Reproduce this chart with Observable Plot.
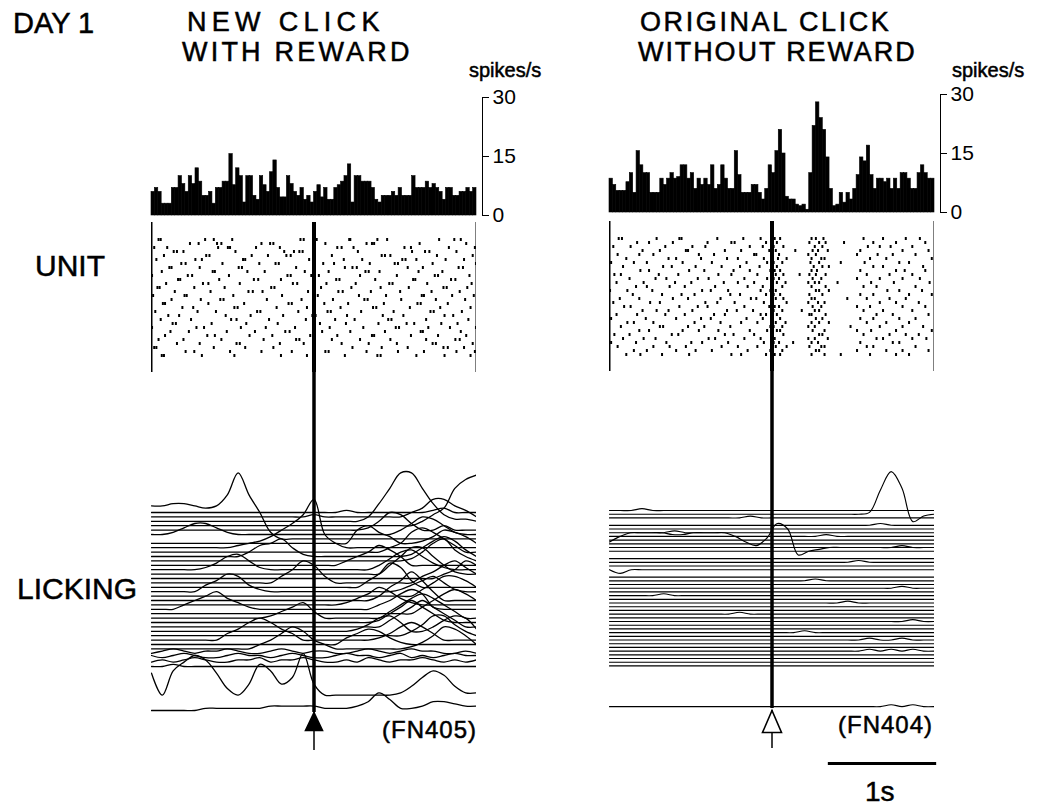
<!DOCTYPE html>
<html><head><meta charset="utf-8">
<script src="https://cdn.jsdelivr.net/npm/d3@7"></script>
<script src="https://cdn.jsdelivr.net/npm/@observablehq/plot@0.6"></script>
<style>
body{margin:0;background:#fff;}
#fig{position:relative;width:1041px;height:806px;overflow:hidden;font-family:"Liberation Sans",Arial,Helvetica,sans-serif;color:#000;background:#fff}
.lbl{position:absolute;line-height:0.85;white-space:nowrap;-webkit-text-stroke:0.5px #000}
.tline{display:block;overflow:visible;white-space:nowrap}
</style></head><body><div id="fig"></div><script>
// ---------------- DATA ----------------
const timeDomain = [-1.5, 1.5];           // s, relative to click
const clickTime = [0];
const rasterCols = 300;                    // 10 ms columns
const histTicks = [0, 15, 30];
const histMax = 30;
const scaleBar = [{from: 0.52, to: 1.52, label: "1s"}];

const titleNew = ["NEW CLICK", "WITH REWARD"];
const titleOrig = ["ORIGINAL CLICK", "WITHOUT REWARD"];
const dayLabel = "DAY 1";
const rowLabels = ["UNIT", "LICKING"];
const unitLabel = "spikes/s";
const caseNew = "(FN405)";
const caseOrig = "(FN404)";

// PSTH, spikes/s per 30 ms bin
const histNew = [6,7,6,3,3,3,7,7,10,8,6,10,8,12,8.6,5,5,6,3,7,7,8.6,8.6,15.6,7.7,12,10,3.3,10,10,5,4,10,7.7,6,11,14,7,4.6,4.6,10,8,6,5,7,4,5,3.3,6,7.7,4.6,7,4,4,7,7.7,8.6,10,13,3.3,10,10,8.6,8.6,8.6,7,4,3.3,5,5,5,6,5,7,5,5,5,10,7,7,7,8.6,7,8,7,6,4,7,7,5,5,6,6,7,6,7];
const histOrig = [8.6,7,5.5,5.5,5.5,7.7,10,5,15.6,12,10,10,5,5,5,8.6,7,8.6,10,8.6,9,12,12,8.6,10,6,8.6,7,8.6,7,12,6,7,12,8.6,6,6,15.6,9.5,5,5,5,7,7,5,3.3,6,12,10,15.6,21,15,4,3.3,3.3,2,1.6,2,0.7,10,22,28,24,21,14,6,1.6,2,5,2.5,5,3.3,6,9.5,14,13,17,9.5,6,8.6,8.6,7.7,8.6,6,8.6,6,10,10,8.6,6,6,10,12,10,8.6,8.6];

// Raster: spike times in 10 ms columns (0-299, click at 150) per trial
const rasterNew = [
[6,8,49,57,74,137,140,152,182,183,208,217,265,279,285],
[35,43,60,64,101,109,112,160,198,203,205,247,290],
[2,14,61,70,72,96,118,171,175,186,233,239,274,298],
[20,23,29,77,122,131,136,139,190,240,252,256,281],
[11,50,53,92,107,124,128,166,212,215,220,263,296],
[4,40,46,84,86,145,150,177,194,231,234,244,271,288],
[27,31,65,99,114,117,158,168,201,224,227,259,299],
[16,18,44,80,83,133,178,185,189,236,250,283,287],
[9,56,58,88,104,141,163,197,200,210,246,268],
[0,33,37,71,125,128,147,154,192,226,261,264,293],
[24,26,62,94,98,119,170,173,206,241,243,276,280],
[13,47,52,81,130,134,161,188,219,222,254,295],
[5,7,39,67,110,113,156,184,211,237,269,272,291],
[21,54,89,93,102,144,172,176,202,229,258,284],
[1,30,32,75,120,149,153,191,216,249,251,277,297],
[18,45,63,66,106,138,167,196,199,230,262,289],
[10,12,52,85,126,129,159,181,214,245,248,273],
[28,38,76,79,115,143,174,204,207,238,266,294],
[3,42,59,97,100,135,162,165,193,223,257,260,286],
[15,25,68,91,121,148,151,180,213,232,270,278],
[8,36,73,78,108,142,169,187,218,221,253,292],
[19,22,55,87,116,155,179,209,235,242,267,282],
[0,41,48,82,105,132,164,195,225,228,255,275,299],
[17,34,69,95,123,127,157,183,215,248,250,285],
[12,51,58,90,111,146,171,203,205,239,264,290],
[6,29,64,103,133,136,166,192,220,253,280,284],
[23,44,78,81,118,140,175,200,226,259,262,296],
[2,4,57,86,112,150,185,212,236,269,273,288],
[31,39,72,101,129,160,163,198,227,251,281,298],
[9,11,46,76,119,143,178,208,211,244,270,294]
];
const rasterOrig = [
[8,11,43,64,66,99,123,139,152,157,186,190,197,234,252,273,286],
[25,36,58,90,112,115,144,154,184,193,199,216,243,264,291],
[3,19,51,76,88,129,141,151,160,189,196,238,249,259,279],
[30,46,70,72,106,121,147,153,171,187,192,201,231,270,294],
[7,27,40,82,96,133,135,150,156,183,190,228,247,261,282],
[15,54,61,84,108,118,142,155,163,186,195,198,240,255,297],
[1,22,34,67,94,126,145,151,159,185,193,213,235,267,276],
[12,49,57,79,103,120,138,154,188,196,202,243,252,289],
[28,36,73,87,114,129,148,152,157,186,191,231,264,272,291],
[4,10,45,63,100,112,136,153,160,175,184,190,199,237,258,279],
[18,42,52,81,91,124,145,151,156,187,195,228,249,270,286],
[6,31,60,75,105,118,133,154,162,183,189,193,210,241,262,295],
[24,34,55,69,97,127,141,150,159,186,199,234,246,282],
[0,16,39,85,93,109,139,148,153,190,193,202,256,267,288],
[21,48,66,78,111,120,144,151,157,184,196,231,243,276,297],
[9,27,58,72,102,130,135,153,160,186,189,219,237,258,273],
[3,37,46,88,99,115,142,150,163,183,192,198,249,264,285],
[13,19,64,81,90,124,147,152,156,187,195,228,240,270,291],
[30,43,54,76,108,117,132,151,159,177,189,193,234,252,279],
[6,25,51,69,96,106,139,144,154,184,186,199,246,261,294],
[1,33,61,84,93,126,141,150,157,190,196,231,243,267,282],
[16,22,40,78,102,121,136,153,162,186,193,202,237,255,276],
[10,46,49,72,87,111,148,151,159,183,189,222,249,270,289],
[27,36,67,82,100,129,145,154,157,187,198,228,241,264,297],
[4,18,57,63,106,114,133,150,160,193,196,234,258,273,285],
[12,31,42,91,97,124,139,152,183,189,201,246,252,279,292],
[1,24,52,75,85,109,142,151,156,169,186,192,231,261,267],
[7,40,55,70,103,118,136,153,163,184,195,198,237,243,282],
[22,34,61,79,94,127,148,150,159,190,193,228,255,270,294],
[15,28,48,73,112,121,144,152,157,186,198,213,240,264,276]
];

// Licking: [trial, deflection sampled every 0.1 s from -1.5 to +1.5 s, base-36 digits in half-trial units]
const lickNew = [
[0,"0000000000000000001000000012000"],
[1,"0000000000000001000000002488530"],
[2,"0000000000000000000028fmmf83110"],
[3,"0000000000000000000000000258hln"],
[4,"0000000000000000000014873002000"],
[5,"0013553100000000000000025874100"],
[6,"ffggfefkukc30000000000000000000"],
[7,"0000000000000000000685300136530"],
[8,"0000000012358bfm620000000000000"],
[9,"0000000000000000000000249b96300"],
[10,"0000000002568410000000001479730"],
[11,"000000000000000000000000148a520"],
[12,"0000000000000000002469740000000"],
[13,"0000013674100000000002589631000"],
[14,"000000000000000000000048cc84100"],
[15,"0000000000000000000000000002486"],
[16,"00000000000036a8300000000358a74"],
[17,"0000000000000000000036b93000000"],
[18,"0000035873100000000000013574100"],
[19,"0000000000000000000000000369974"],
[20,"000000000000000000000269d940000"],
[21,"0000000000000000001358631000000"],
[22,"0002468531000000000002479710000"],
[23,"0000000000000000000000000369b96"],
[24,"0000000000013573000000369b96300"],
[25,"000000000000000000000147a741000"],
[26,"0000000000000000000000369c96300"],
[27,"0000000000000000000136740025761"],
[28,"0000000000000000000000002599520"],
[29,"0000000358a85300000001368630000"],
[30,"0000000000000000003576310000000"],
[31,"0000000000247a8420000000136a962"],
[32,"0121011210012101100121012110010"],
[33,"1012100121101210012110120101211"],
[34,"0101210011201121001021011210101"],
[35,"0010000000000000000000000000000"],
[42,"b1cgjhb416fc69k61111111259ca522"],
[45,"0000011111122222111248511244322"]
];
const lickOrig = [
[0,"0001000000000000000000000000000"],
[2,"0000000000000100000000000000000"],
[3,"4444444444444444444444445hri034"],
[4,"0000000000000000000000000100000"],
[5,"0000000000000000000000000000000"],
[6,"0000001000000000000000000000000"],
[7,"0000000000000000000010000000000"],
[8,"0000000000000000000000000000000"],
[9,"0000000000000000000000000000000"],
[10,"0000000000000000000000000001000"],
[11,"0000000000000000000000000000000"],
[12,"7accccbbcccca759he02344444444444"],
[13,"0000000000000000000000000000000"],
[14,"0000000000000000000000010000000"],
[15,"0000000000000000000000000000000"],
[17,"2022222222222222222222222222222"],
[18,"0000000000000000000000000000000"],
[19,"0000000000000000000100000000000"],
[20,"0000000000000000000000000000000"],
[21,"0000000000000000000000000001000"],
[22,"0000000000000000000000000000000"],
[23,"0000010000000000000000000000000"],
[24,"0000000000000000000000000000000"],
[25,"0000000000000000000000100000000"],
[26,"0000000000000000000000000000000"],
[27,"0000000000000000000000000000000"],
[28,"0000000000001000000000000000000"],
[29,"0000000000000000000000000000000"],
[30,"0000000000000000000000000000100"],
[31,"0000000000000000000000000000000"],
[32,"0000000000000000000000000000000"],
[33,"0000000000000000001000000000000"],
[34,"0000000000000000000000000000000"],
[35,"0000000000000000000000001001000"],
[36,"0000000000000000000000000000000"],
[37,"0000000000000000000000000000000"],
[38,"0000000000000000000000001010100"],
[39,"0000000000000000000000000000000"],
[40,"0000000000000000000000000000000"],
[41,"0000000000000000000000000000000"],
[42,"0000000000000000000000000000000"],
[53,"0000000000000000000000000010100"]
];

// ---------------- BUILD ----------------
const fig = document.getElementById("fig");
const FONT = "'Liberation Sans', Arial, Helvetica, sans-serif";
const panelW = 325;

function put(node, left, top) {
  node.style.position = "absolute";
  node.style.left = left + "px";
  node.style.top = top + "px";
  fig.appendChild(node);
}

function histPlot(values, left, top, y30, y0) {
  const bw = (timeDomain[1] - timeDomain[0]) / values.length;
  const bins = values.map((v, i) => ({x1: timeDomain[0] + i * bw, x2: timeDomain[0] + (i + 1) * bw, v}));
  const mt = y30 - top, mb = 16;
  const svg = Plot.plot({
    width: panelW + 6 + 50, height: (y0 - top) + mb,
    marginLeft: 0, marginRight: 50, marginTop: mt, marginBottom: mb,
    style: {fontSize: "21px", fontFamily: FONT, color: "black", background: "transparent", overflow: "visible"},
    x: {domain: timeDomain, insetRight: 6, axis: null},
    y: {domain: [0, histMax], ticks: histTicks, axis: "right", line: true, tickSize: 6, tickPadding: 4, label: null, tickFormat: d => String(d)},
    marks: [
      Plot.rectY(bins, {x1: "x1", x2: "x2", y: "v", fill: "black", stroke: "black", strokeWidth: 0.6, inset: 0})
    ]
  });
  put(svg, left, top);
}

function rasterPlot(rows, left, top, height) {
  const bw = (timeDomain[1] - timeDomain[0]) / rasterCols;
  const spikes = rows.flatMap((cols, trial) => cols.map(c => ({trial, t: timeDomain[0] + (c + 0.5) * bw})));
  const svg = Plot.plot({
    width: panelW, height, margin: 0,
    style: {background: "transparent"},
    x: {domain: timeDomain, axis: null},
    y: {domain: d3.range(rows.length), axis: null, padding: 0.3},
    marks: [
      Plot.tickX(spikes, {x: "t", y: "trial", stroke: "black", strokeWidth: 2}),
      Plot.ruleX(timeDomain, {stroke: "black", strokeWidth: 2}),
      Plot.ruleX(clickTime, {stroke: "black", strokeWidth: 4})
    ]
  });
  put(svg, left, top);
}

function lickPlot(traces, left, top, height, firstY, trialPx, sw) {
  const rows = [];
  for (const [trial, shape] of traces) {
    const n = shape.length;
    for (let i = 0; i < n; i++) rows.push({trial, t: timeDomain[0] + (timeDomain[1] - timeDomain[0]) * i / (n - 1), v: -trial + parseInt(shape[i], 36) / 2});
  }
  const above = (firstY - top) / trialPx, below = (height - (firstY - top)) / trialPx;
  const svg = Plot.plot({
    width: panelW, height, margin: 0,
    style: {background: "transparent"},
    x: {domain: timeDomain, axis: null},
    y: {domain: [-below, above], axis: null},
    marks: [
      Plot.line(rows, {x: "t", y: "v", z: "trial", curve: "catmull-rom", stroke: "black", strokeWidth: sw}),
      Plot.ruleX(clickTime, {stroke: "black", strokeWidth: 3.5})
    ]
  });
  put(svg, left, top);
}

function arrowHead(w, h) {
  return {draw(ctx) { ctx.moveTo(0, 0); ctx.lineTo(w / 2, h); ctx.lineTo(-w / 2, h); ctx.closePath(); }};
}

function eventPlot(left, tipY, stemEnd, w, h, filled) {
  const svg = Plot.plot({
    width: panelW, height: stemEnd - tipY + 3, marginLeft: 0, marginRight: 0, marginTop: 1, marginBottom: 2,
    style: {background: "transparent", overflow: "visible"},
    x: {domain: timeDomain, axis: null},
    marks: [
      Plot.ruleX(clickTime, {stroke: "black", strokeWidth: 1.5}),
      Plot.dot(clickTime, {x: d => d, frameAnchor: "top", symbol: arrowHead(w, h), fill: filled ? "black" : "white", stroke: "black", strokeWidth: 1.6})
    ]
  });
  put(svg, left, tipY - 1);
}

function scalePlot(left, top) {
  const svg = Plot.plot({
    width: panelW + 10, height: 8, margin: 0,
    style: {background: "transparent"},
    x: {domain: timeDomain, range: [0, panelW], axis: null},
    y: {domain: [-1, 1], axis: null},
    marks: [Plot.ruleY(scaleBar, {x1: "from", x2: "to", y: () => 0, stroke: "black", strokeWidth: 3.2})]
  });
  put(svg, left, top);
}

function label(text, left, capTop, size, spacing) {
  const d = document.createElement("div");
  d.className = "lbl";
  d.textContent = text;
  d.style.fontSize = size + "px";
  d.style.left = left + "px";
  d.style.top = (capTop - 0.0555 * size) + "px";
  if (spacing) d.style.letterSpacing = spacing + "px";
  fig.appendChild(d);
}

// two-line title: one block, each line its own fixed-height row
function title(lines, lefts, spacings, capTop, size, lineGap) {
  const d = document.createElement("div");
  d.className = "lbl";
  d.style.fontSize = size + "px";
  const half = (lineGap - 1.117 * size) / 2;
  const x0 = Math.min(...lefts);
  d.style.left = x0 + "px";
  d.style.top = (capTop - (half + 0.189 * size)) + "px";
  lines.forEach((t, i) => {
    const s = document.createElement("div");
    s.className = "tline";
    s.textContent = t;
    s.style.height = lineGap + "px";
    s.style.lineHeight = lineGap + "px";
    s.style.letterSpacing = spacings[i] + "px";
    s.style.paddingLeft = (lefts[i] - x0) + "px";
    d.appendChild(s);
  });
  fig.appendChild(d);
}

// panels
histPlot(histNew, 151, 80, 97, 215);
histPlot(histOrig, 609, 77, 94, 212);
rasterPlot(rasterNew, 151, 222, 150);
rasterPlot(rasterOrig, 609, 221, 150);
lickPlot(lickNew, 151, 372, 340, 512, 4.4, 1.3);
lickPlot(lickOrig, 609, 371, 337, 510, 3.7, 1.15);
eventPlot(151, 712, 750, 17, 18, true);
eventPlot(609, 710, 748, 19, 22, false);
scalePlot(609, 759);

// text
label(dayLabel, 13, 13, 29);
title(titleNew, [187, 182], [5.3, 3.2], 12, 27, 30.5);
title(titleOrig, [640, 638], [2.6, 1.9], 12, 27, 30.5);
label(unitLabel, 469, 63, 20);
label(unitLabel, 952, 63, 20);
label(rowLabels[0], 35, 255, 30);
label(rowLabels[1], 17, 578, 30);
label(caseNew, 382, 721, 24, 1);
label(caseOrig, 838, 716, 24, 1);
label(scaleBar[0].label, 865, 782, 28);
</script></body></html>
